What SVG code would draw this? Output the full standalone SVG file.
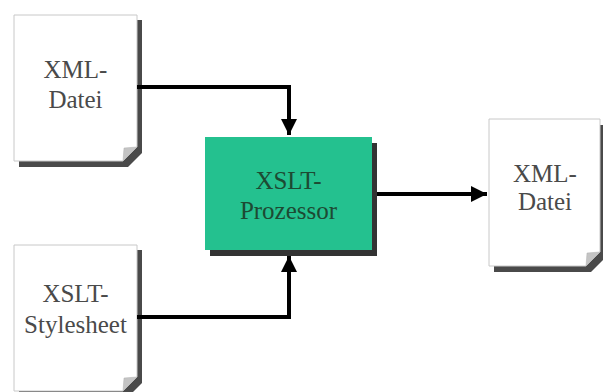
<svg xmlns="http://www.w3.org/2000/svg" width="603" height="392" viewBox="0 0 603 392">
<defs>
<style>
.shadow{fill:#4a4a4a}
.page{fill:#ffffff;stroke:#c8c8c8;stroke-width:1}
.fold{fill:#c4c4c4;stroke:#b0b0b0;stroke-width:0.5}
.doctext{font-family:"Liberation Serif","Times New Roman",serif;font-size:25px;fill:#4a4a4a;text-anchor:middle}
.proctext{font-family:"Liberation Serif","Times New Roman",serif;font-size:25px;fill:#1d4a33;text-anchor:middle}
.conn{fill:none;stroke:#000000;stroke-width:4}
</style>
<marker id="ah" viewBox="0 0 10 10" refX="10" refY="5" markerWidth="4.5" markerHeight="4" orient="auto" markerUnits="strokeWidth">
<path d="M0,0 L10,5 L0,10 Z" fill="#000000"/>
</marker>
</defs>
<rect width="603" height="392" fill="#ffffff"/>
<g id="xml-input">
<path class="shadow" d="M19,20 H142 V153 L128,167 H19 Z"/>
<path class="page" d="M14,15 H137 V147 L123,161 H14 Z"/>
<path class="fold" d="M137,147 L123,161 L124,148 Z"/>
<text class="doctext" x="75.5" y="78">XML-</text>
<text class="doctext" x="75.5" y="108">Datei</text>
</g>
<g id="xslt-stylesheet">
<path class="shadow" d="M19,250 H142 V383 L128,397 H19 Z"/>
<path class="page" d="M14,245 H137 V377 L123,391 H14 Z"/>
<path class="fold" d="M137,377 L123,391 L124,378 Z"/>
<text class="doctext" x="75.5" y="302">XSLT-</text>
<text class="doctext" x="75.5" y="333">Stylesheet</text>
</g>
<g id="xslt-processor">
<rect x="210" y="143" width="167" height="113" fill="#333333"/>
<rect x="205" y="137" width="167" height="113" fill="#24c18f"/>
<text class="proctext" x="288.5" y="189">XSLT-</text>
<text class="proctext" x="288.5" y="219">Prozessor</text>
</g>
<g id="xml-output">
<path class="shadow" d="M494,125 H605 V258 L591,272 H494 Z"/>
<path class="page" d="M489,119 H600 V252 L586,266 H489 Z"/>
<path class="fold" d="M600,252 L586,266 L587,253 Z"/>
<text class="doctext" x="545" y="182">XML-</text>
<text class="doctext" x="545" y="210">Datei</text>
</g>
<g id="connectors">
<path class="conn" d="M137,87 H289 V135" marker-end="url(#ah)"/>
<path class="conn" d="M137,317 H289 V256" marker-end="url(#ah)"/>
<path class="conn" d="M377,194 H487" marker-end="url(#ah)"/>
</g>
</svg>
